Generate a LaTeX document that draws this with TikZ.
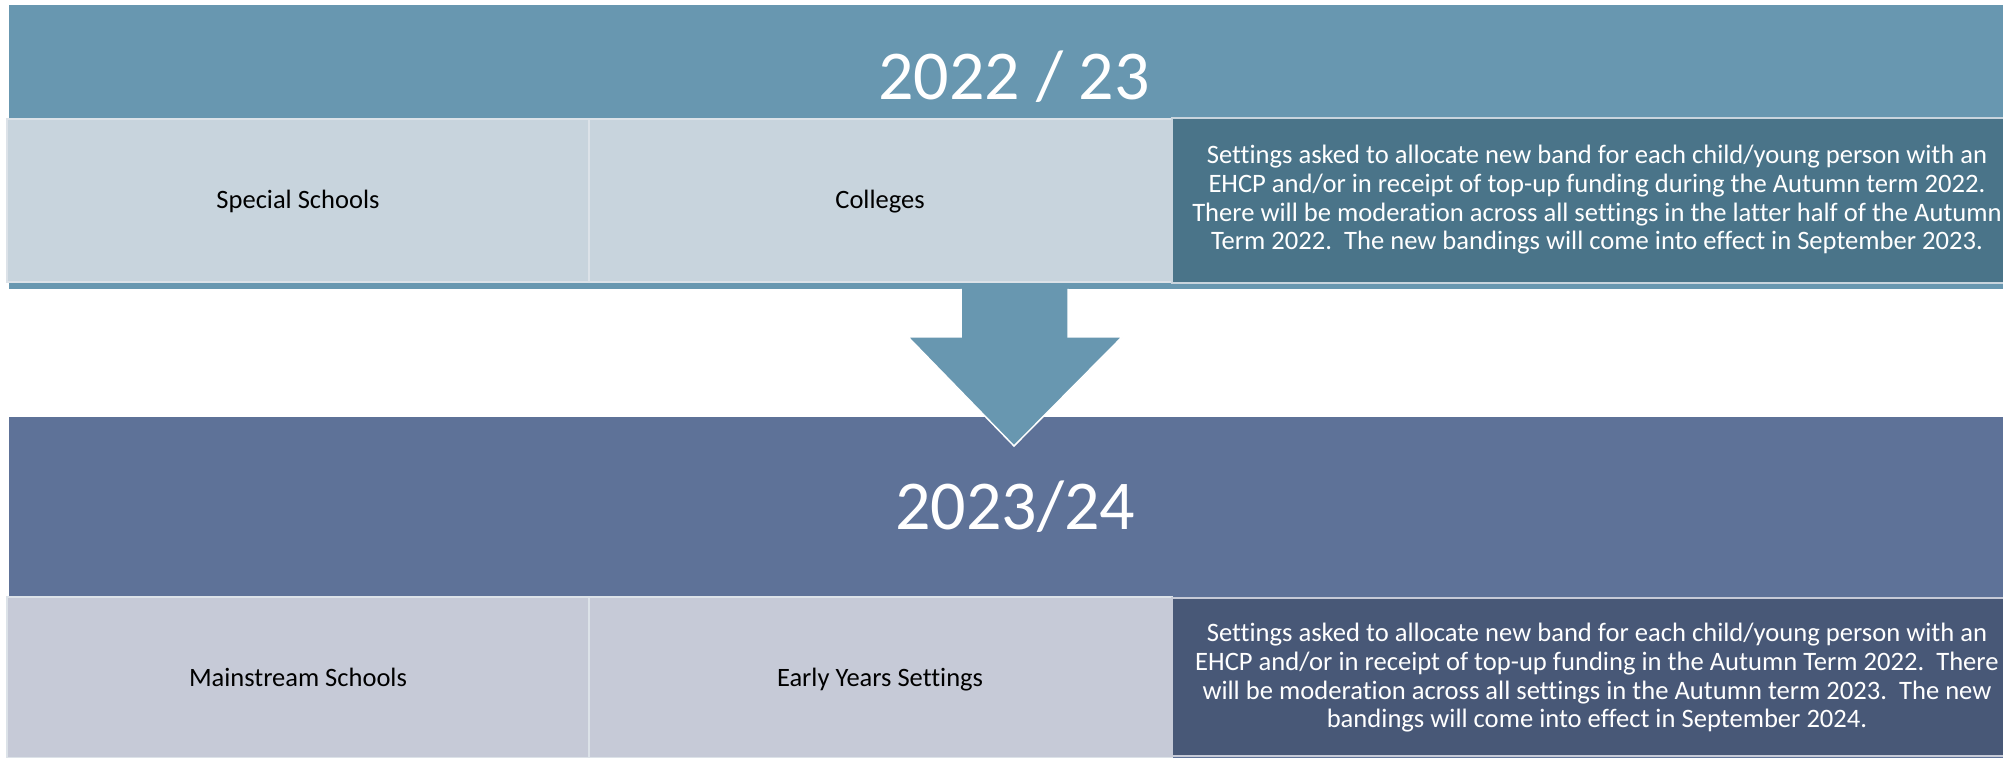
\documentclass[tikz,border=0pt]{standalone}
\usepackage{fontspec}
\setmainfont{Carlito}[Ligatures={NoCommon}]
\definecolor{topband}{HTML}{6897B0}
\definecolor{topcell}{HTML}{C8D4DD}
\definecolor{topbox}{HTML}{4A7489}
\definecolor{botband}{HTML}{5E7298}
\definecolor{botcell}{HTML}{C6CAD7}
\definecolor{botbox}{HTML}{485877}
\definecolor{cellline}{HTML}{DCE2E8}
\definecolor{toplineb}{HTML}{C8D4DD}
\definecolor{botlineb}{HTML}{C6CAD7}
\begin{document}
\begin{tikzpicture}[x=0.5pt,y=-0.5pt,
  bandrect/.style={fill=#1,draw=none},
  cellbox/.style={fill=#1,draw=cellline,line width=1pt},
  descrect/.style={fill=#1,line width=1pt},
  celllabel/.style={font=\fontsize{13.25}{16}\selectfont,text=black,anchor=base,inner sep=0pt},
  desclabel/.style={font=\fontsize{13.3}{14.35}\selectfont,text=white,align=center,inner sep=0pt},
  titletext/.style={font=\fontsize{35}{42}\selectfont,text=white,anchor=base,inner sep=0pt},
  arrowfill/.style={fill=topband,draw=none},
  arrowedge/.style={draw=white,line width=0.75pt,line join=miter}]
\useasboundingbox (0,0) rectangle (2003,758);
\clip (0,0) rectangle (2003,758);
\fill[white] (0,0) rectangle (2003,758);
% ---- top band 2022/23
\path[bandrect=topband] (9,5) rectangle (2030,289);
\node[titletext] (title1) at (1014,100) {2022 / 23};
\path[cellbox=topcell] (7,119) rectangle (589,282);
\path[cellbox=topcell] (589,119) rectangle (1172,282);
\path[descrect=topbox,draw=toplineb] (1172,118) rectangle (2020,283);
\node[celllabel] (ss) at (298,209) {Special Schools};
\node[celllabel] (col) at (880,209) {Colleges};
\node[desclabel] (desc1) at (1597,200) {Settings asked to allocate new band for each child/young person with an\\
EHCP and/or in receipt of top-up funding during the Autumn term 2022.\\
There will be moderation across all settings in the latter half of the Autumn\\
Term 2022.\ \ The new bandings will come into effect in September 2023.};
% ---- bottom band 2023/24
\path[bandrect=botband] (9,417) rectangle (2030,760);
\node[titletext] (title2) at (1015,530) {2023/24};
\path[cellbox=botcell] (7,597) rectangle (589,758);
\path[cellbox=botcell] (589,597) rectangle (1172,758);
\path[descrect=botbox,draw=botlineb] (1172,598) rectangle (2020,756);
\node[celllabel] (ms) at (298,687) {Mainstream Schools};
\node[celllabel] (ey) at (880,687) {Early Years Settings};
\node[desclabel] (desc2) at (1597,678) {Settings asked to allocate new band for each child/young person with an\\
EHCP and/or in receipt of top-up funding in the Autumn Term 2022.\ \ There\\
will be moderation across all settings in the Autumn term 2023.\ \ The new\\
bandings will come into effect in September 2024.};
% ---- down arrow
\path[arrowfill] (961,289) -- (1068,289) -- (1068,337) -- (1122,337) -- (1014,446) -- (908,337) -- (961,337) -- cycle;
\draw[arrowedge] (961,289) -- (961,337) -- (908,337) -- (1014,446) -- (1122,337) -- (1068,337) -- (1068,289);
\end{tikzpicture}
\end{document}
